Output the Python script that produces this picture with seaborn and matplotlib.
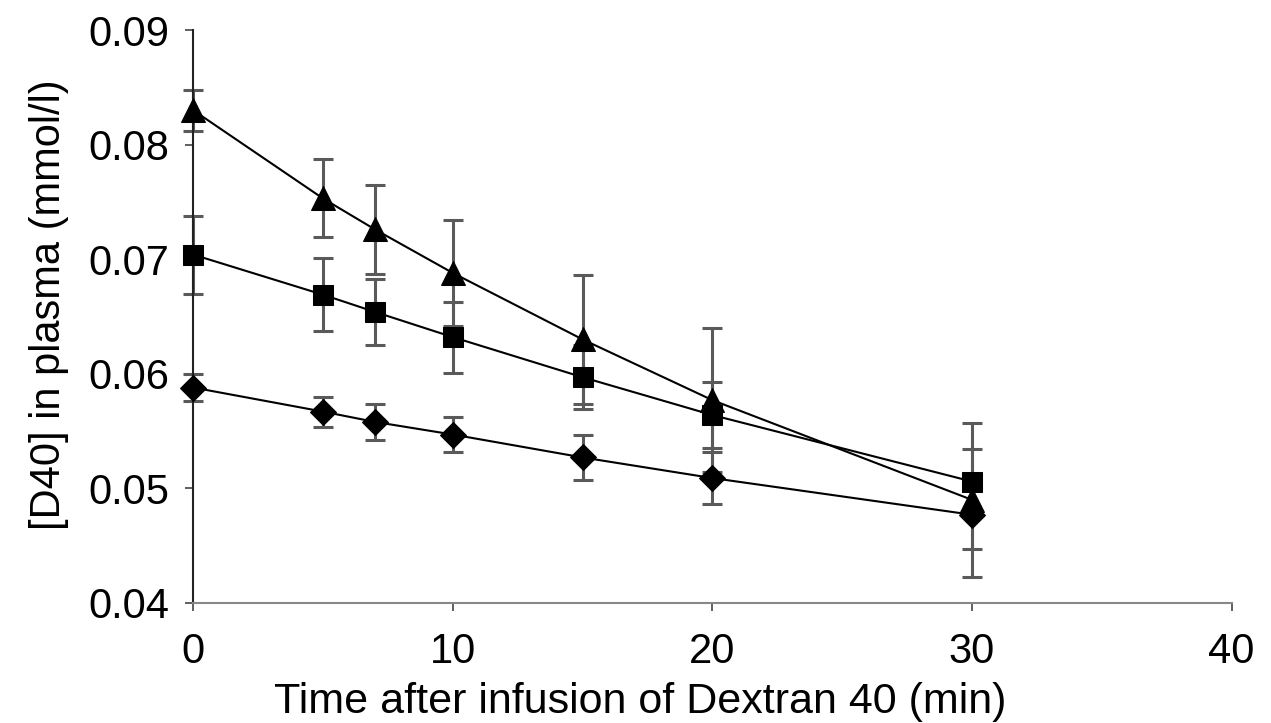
import numpy as np
import pandas as pd
import matplotlib.pyplot as plt
import seaborn as sns

# Data
time_min = [0, 5, 7, 10, 15, 20, 30]
tri_mean = [0.0830, 0.0753, 0.0726, 0.0688, 0.0630, 0.0577, 0.0490]
tri_err = [0.0018, 0.0034, 0.0039, 0.0046, 0.0056, 0.0063, 0.0067]
sq_mean = [0.0704, 0.0669, 0.0654, 0.0632, 0.0597, 0.0564, 0.0506]
sq_err = [0.0034, 0.0032, 0.0029, 0.0031, 0.0028, 0.0029, 0.0028]
dia_mean = [0.0588, 0.0567, 0.0558, 0.0547, 0.0527, 0.0509, 0.0477]
dia_err = [0.0012, 0.0013, 0.0016, 0.0015, 0.0020, 0.0023, 0.0030]

x_ticks = [0, 10, 20, 30, 40]
y_ticks = [0.04, 0.05, 0.06, 0.07, 0.08, 0.09]

sns.set_theme(style="ticks")
plt.rcParams['font.family'] = ['Liberation Sans', 'DejaVu Sans']
plt.rcParams['text.color'] = 'black'
plt.rcParams['axes.labelcolor'] = 'black'
plt.rcParams['xtick.color'] = 'black'
plt.rcParams['ytick.color'] = 'black'

groups = {"tri": (tri_mean, tri_err, "^", 17),
          "sq": (sq_mean, sq_err, "s", 15),
          "dia": (dia_mean, dia_err, "D", 13)}

rows = []
for name, (mean, err, _, _) in groups.items():
    for t, m, e in zip(time_min, mean, err):
        rows.append({"time": t, "conc": m, "err": e, "group": name})
df = pd.DataFrame(rows)

fig, ax = plt.subplots(figsize=(12.71, 7.23), dpi=100)
fig.subplots_adjust(left=0.152, right=0.969, bottom=0.166, top=0.9585)

# black lines + markers
sns.lineplot(data=df, x="time", y="conc", style="group",
             markers={k: v[2] for k, v in groups.items()}, dashes=False,
             color="black", linewidth=1.5, markeredgecolor="black",
             legend=False, ax=ax, zorder=3, clip_on=False)
for line, g in zip(ax.lines[:3], groups.values()):
    line.set_markersize(g[3])

# grey error bars
for name, (mean, err, mk, ms) in groups.items():
    ax.errorbar(time_min, mean, yerr=err, fmt='none', ecolor='#5a5a5a',
                elinewidth=2.2, capsize=7, capthick=2.2, zorder=2, clip_on=False)

ax.set_xlim(0, 40)
ax.set_ylim(0.04, 0.09)
ax.set_xticks(x_ticks)
ax.set_yticks(y_ticks)
ax.set_yticklabels([f"{v:.2f}" for v in y_ticks])
ax.tick_params(axis='both', labelsize=30, length=6, width=1.2, color='#444444')
ax.tick_params(axis='x', pad=15)
ax.tick_params(axis='y', pad=11)
ax.set_xlabel("Time after infusion of Dextran 40 (min)", fontsize=31)
ax.xaxis.set_label_coords(0.43, -0.138)
ax.set_ylabel("[D40] in plasma (mmol/l)", fontsize=30, labelpad=14)
ax.yaxis.label.set_y(0.52)

for side in ["top", "right"]:
    ax.spines[side].set_visible(False)
ax.spines["left"].set_color("#222222")
ax.spines["left"].set_linewidth(1.5)
ax.spines["bottom"].set_color("#888888")
ax.spines["bottom"].set_linewidth(1.5)

plt.savefig("out.png", dpi=100)
plt.close()
